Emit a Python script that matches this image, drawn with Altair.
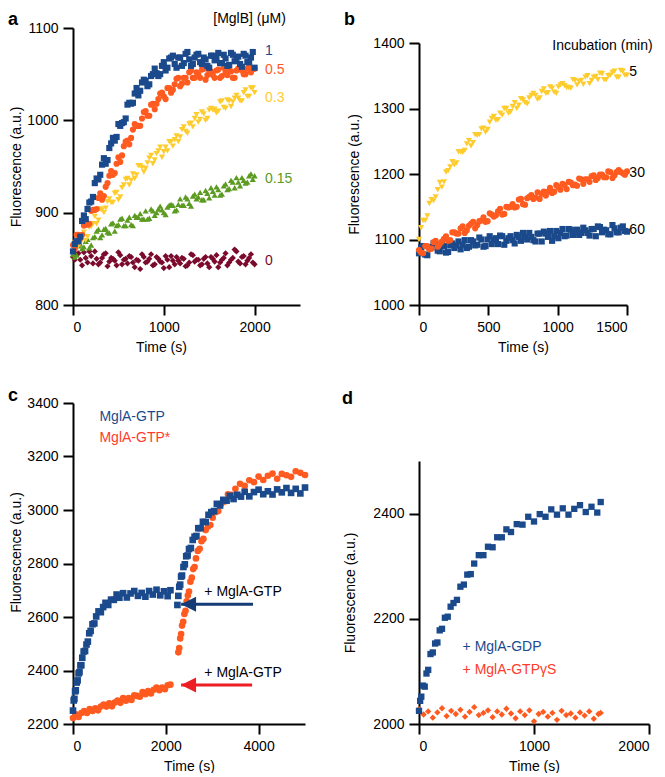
import altair as alt
import pandas as pd

FONT = "Liberation Sans"
BLUE = "#1b4a8c"
ORANGE = "#ff5a1f"
YELLOW = "#ffcc2e"
GREEN = "#5c9b21"
MAROON = "#7b0b2c"
RED = "#ee1d23"
ARROW_BLUE = "#163c78"
LEG_RED = "#ff3b2b"

# ---------------- panel a : [MglB] series (two interleaved reading sets) ----------------
a_time = [0, 40, 80, 120, 160, 200, 240, 280, 320, 360, 400, 440, 480, 520, 560, 600, 640,
          680, 720, 760, 800, 840, 880, 920, 960, 1000, 1040, 1080, 1120, 1160, 1200, 1240,
          1280, 1320, 1360, 1400, 1440, 1480, 1520, 1560, 1600, 1640, 1680, 1720, 1760, 1800,
          1840, 1880, 1920, 1960, 2000]
a_time2 = [20, 60, 100, 140, 180, 220, 260, 300, 340, 380, 420, 460, 500, 540, 580, 620, 660,
           700, 740, 780, 820, 860, 900, 940, 980, 1020, 1060, 1100, 1140, 1180, 1220, 1260,
           1300, 1340, 1380, 1420, 1460, 1500, 1540, 1580, 1620, 1660, 1700, 1740, 1780, 1820,
           1860, 1900, 1940, 1980]
a_1 = [858, 869, 874, 897, 904, 912, 932, 936, 952, 953, 970, 981, 982, 994, 998, 1017, 1018,
       1029, 1027, 1041, 1043, 1039, 1050, 1051, 1050, 1063, 1057, 1068, 1061, 1068, 1059, 1072,
       1066, 1061, 1071, 1063, 1068, 1059, 1070, 1065, 1073, 1062, 1067, 1060, 1071, 1066, 1061,
       1072, 1063, 1068, 1057]
a_1b = [866, 869, 891, 893, 911, 917, 937, 941, 959, 957, 975, 978, 996, 997, 1002, 1019, 1019,
        1035, 1032, 1044, 1037, 1048, 1056, 1048, 1059, 1054, 1067, 1070, 1057, 1068, 1062, 1074,
        1059, 1068, 1072, 1061, 1066, 1057, 1070, 1067, 1062, 1071, 1059, 1073, 1064, 1069, 1058,
        1070, 1063, 1074]
a_05 = [865, 876, 872, 886, 887, 902, 903, 916, 914, 928, 940, 941, 953, 955, 972, 978, 981,
        996, 994, 1002, 1010, 1005, 1018, 1018, 1029, 1026, 1035, 1030, 1039, 1046, 1040, 1046,
        1052, 1046, 1052, 1046, 1056, 1049, 1053, 1046, 1055, 1048, 1052, 1057, 1046, 1054, 1056,
        1050, 1056, 1052, 1056]
a_05b = [861, 876, 876, 892, 888, 903, 904, 921, 918, 932, 945, 943, 960, 962, 977, 974, 990,
         994, 994, 1009, 1005, 1017, 1012, 1023, 1030, 1023, 1035, 1033, 1045, 1037, 1046, 1041,
         1054, 1046, 1050, 1055, 1044, 1054, 1049, 1054, 1046, 1057, 1049, 1053, 1046, 1056, 1054,
         1050, 1058, 1056]
a_03 = [857, 868, 867, 879, 874, 885, 896, 892, 903, 905, 915, 911, 922, 917, 930, 937, 935,
        937, 951, 949, 948, 959, 953, 964, 971, 966, 967, 977, 979, 977, 990, 988, 996, 993,
        1006, 1001, 1007, 1002, 1013, 1012, 1010, 1021, 1013, 1021, 1020, 1027, 1021, 1030, 1026,
        1035, 1030]
a_03b = [867, 864, 875, 870, 884, 888, 888, 904, 900, 912, 911, 921, 914, 927, 936, 930, 942,
         941, 951, 944, 954, 962, 957, 967, 960, 971, 977, 972, 983, 982, 993, 986, 997, 1002,
         998, 1009, 1000, 1011, 1011, 1008, 1020, 1014, 1022, 1015, 1024, 1024, 1021, 1033, 1026,
         1035]
a_015 = [855, 854, 866, 863, 871, 865, 874, 882, 876, 883, 878, 889, 886, 893, 886, 892, 887,
         897, 895, 893, 902, 894, 902, 900, 907, 900, 906, 909, 902, 909, 908, 917, 910, 918,
         915, 922, 914, 921, 927, 919, 925, 920, 931, 926, 933, 938, 929, 935, 933, 942, 940]
a_015b = [852, 864, 861, 869, 862, 873, 880, 873, 882, 879, 888, 880, 887, 894, 886, 895, 886,
          895, 899, 893, 893, 904, 897, 904, 903, 898, 908, 908, 903, 915, 908, 915, 907, 920,
          917, 914, 924, 916, 923, 928, 919, 929, 925, 935, 927, 933, 938, 932, 940, 936]
a_0 = [852, 855, 849, 857, 846, 853, 858, 844, 851, 856, 847, 850, 843, 854, 849, 845, 852,
       841, 848, 855, 846, 850, 843, 852, 847, 840, 849, 853, 844, 848, 851, 842, 846, 854, 849,
       843, 850, 845, 852, 847, 841, 849, 856, 846, 851, 858, 845, 853, 848, 855, 844]
a_0b = [849, 856, 843, 851, 858, 845, 850, 846, 855, 842, 851, 848, 857, 844, 850, 853, 846,
        849, 839, 852, 847, 855, 844, 850, 846, 853, 841, 848, 852, 845, 850, 843, 855, 847, 849,
        844, 852, 841, 850, 854, 846, 851, 843, 849, 860, 847, 852, 844, 851, 846]
a_labels = ["1", "0.5", "0.3", "0.15", "0"]
a_label_f = [1075, 1054, 1024, 937, 848]

# ---------------- panel b : incubation series ----------------
b_time = [0, 30, 60, 90, 120, 150, 180, 210, 240, 270, 300, 330, 360, 390, 420, 450, 480, 510,
          540, 570, 600, 630, 660, 690, 720, 750, 780, 810, 840, 870, 900, 930, 960, 990, 1020,
          1050, 1080, 1110, 1140, 1170, 1200, 1230, 1260, 1290, 1320, 1350, 1380, 1410, 1440,
          1470, 1500]
b_time2 = [15, 45, 75, 105, 135, 165, 195, 225, 255, 285, 315, 345, 375, 405, 435, 465, 495,
           525, 555, 585, 615, 645, 675, 705, 735, 765, 795, 825, 855, 885, 915, 945, 975, 1005,
           1035, 1065, 1095, 1125, 1155, 1185, 1215, 1245, 1275, 1305, 1335, 1365, 1395, 1425,
           1455, 1485]
b_5 = [1100, 1129, 1136, 1161, 1165, 1187, 1188, 1205, 1219, 1217, 1234, 1236, 1251, 1248, 1259,
       1269, 1264, 1279, 1288, 1283, 1290, 1300, 1295, 1309, 1305, 1313, 1307, 1320, 1320, 1316,
       1330, 1324, 1331, 1323, 1336, 1335, 1332, 1344, 1336, 1343, 1348, 1338, 1348, 1344, 1353,
       1344, 1351, 1357, 1348, 1357, 1351]
b_5b = [1118, 1129, 1155, 1159, 1176, 1180, 1203, 1211, 1214, 1234, 1233, 1246, 1243, 1260, 1260,
        1270, 1268, 1285, 1282, 1293, 1300, 1293, 1303, 1300, 1315, 1309, 1316, 1323, 1314, 1326,
        1323, 1333, 1325, 1333, 1338, 1332, 1331, 1343, 1341, 1337, 1350, 1343, 1349, 1354, 1344,
        1350, 1355, 1348, 1358, 1351]
b_30 = [1084, 1079, 1090, 1086, 1098, 1093, 1101, 1098, 1111, 1109, 1117, 1110, 1121, 1127, 1122,
        1129, 1127, 1140, 1135, 1143, 1138, 1150, 1150, 1149, 1161, 1154, 1163, 1168, 1164, 1162,
        1173, 1173, 1171, 1183, 1176, 1183, 1188, 1183, 1182, 1192, 1192, 1188, 1198, 1194, 1199,
        1195, 1203, 1198, 1206, 1201, 1204]
b_30b = [1080, 1090, 1085, 1096, 1089, 1097, 1105, 1099, 1111, 1109, 1120, 1114, 1124, 1117,
         1128, 1134, 1128, 1138, 1137, 1147, 1139, 1149, 1154, 1150, 1162, 1153, 1165, 1162, 1172,
         1170, 1167, 1179, 1173, 1180, 1185, 1177, 1187, 1184, 1193, 1185, 1192, 1197, 1191, 1199,
         1195, 1204, 1194, 1203, 1203, 1199]
b_60 = [1079, 1090, 1076, 1088, 1093, 1082, 1090, 1081, 1094, 1091, 1085, 1099, 1089, 1097, 1092,
        1100, 1090, 1105, 1099, 1093, 1105, 1098, 1105, 1094, 1104, 1110, 1100, 1104, 1097, 1109,
        1112, 1104, 1098, 1113, 1110, 1105, 1116, 1107, 1115, 1110, 1114, 1106, 1116, 1120, 1111,
        1114, 1108, 1117, 1111, 1120, 1112]
b_60b = [1088, 1077, 1088, 1094, 1083, 1093, 1080, 1091, 1087, 1097, 1092, 1087, 1099, 1091,
         1103, 1089, 1100, 1093, 1102, 1106, 1092, 1102, 1099, 1107, 1098, 1104, 1110, 1099, 1109,
         1097, 1109, 1113, 1105, 1102, 1116, 1106, 1115, 1111, 1107, 1118, 1110, 1116, 1105, 1119,
         1115, 1108, 1122, 1111, 1118, 1113]
b_labels = ["5", "30", "60"]
b_label_f = [1355, 1201, 1115]

# ---------------- panel c : MglA-GTP / MglA-GTP* ----------------
c_blue1_t = [0, 15, 30, 45, 60, 80, 100, 120, 140, 160, 180, 200, 230, 260, 290, 320, 350, 380,
             420, 460, 500, 550, 600, 650, 700, 760, 820, 880, 940, 1000, 1080, 1160, 1240, 1320,
             1400, 1480, 1560, 1640, 1720, 1800, 1880, 1960, 2040, 2100]
c_blue1 = [2250, 2288, 2294, 2322, 2326, 2355, 2363, 2389, 2394, 2419, 2420, 2448, 2471, 2473,
           2497, 2508, 2539, 2548, 2573, 2576, 2602, 2621, 2618, 2637, 2653, 2645, 2665, 2664,
           2684, 2672, 2689, 2673, 2688, 2697, 2679, 2690, 2676, 2697, 2684, 2702, 2681, 2696,
           2678, 2700]
c_blue2_t = [2250, 2270, 2290, 2310, 2330, 2350, 2380, 2410, 2440, 2470, 2500, 2540, 2580, 2620,
             2660, 2700, 2750, 2800, 2860, 2920, 2980, 3040, 3100, 3170, 3240, 3310, 3380, 3460,
             3540, 3620, 3700, 3800, 3900, 4000, 4100, 4200, 4300, 4400, 4500, 4600, 4700, 4800,
             4900, 5000]
c_blue2 = [2645, 2679, 2713, 2721, 2751, 2755, 2787, 2797, 2827, 2830, 2854, 2858, 2888, 2900,
           2903, 2932, 2932, 2956, 2955, 2982, 2992, 2996, 3023, 3017, 3038, 3035, 3053, 3041,
           3057, 3050, 3068, 3051, 3067, 3076, 3059, 3070, 3058, 3077, 3066, 3082, 3064, 3079,
           3062, 3084]
c_orange1_t = [0, 60, 120, 180, 240, 300, 360, 420, 480, 540, 600, 660, 720, 780, 840, 900, 960,
               1020, 1080, 1140, 1200, 1260, 1320, 1380, 1440, 1500, 1560, 1620, 1680, 1740,
               1800, 1860, 1920, 1980, 2040, 2100]
c_orange1 = [2222, 2236, 2226, 2241, 2248, 2241, 2256, 2249, 2259, 2251, 2265, 2273, 2265, 2277,
             2266, 2280, 2288, 2279, 2297, 2287, 2297, 2290, 2307, 2305, 2302, 2319, 2311, 2323,
             2314, 2328, 2336, 2326, 2336, 2330, 2345, 2347]
c_orange2_t = [2270, 2290, 2310, 2330, 2350, 2375, 2400, 2425, 2450, 2475, 2500, 2530, 2560,
               2590, 2620, 2650, 2690, 2730, 2770, 2810, 2860, 2910, 2960, 3010, 3070, 3130,
               3200, 3270, 3340, 3420, 3500, 3600, 3700, 3800, 3900, 4000, 4100, 4200, 4300,
               4400, 4500, 4600, 4700, 4800, 4900, 5000]
c_orange2 = [2468, 2484, 2520, 2536, 2568, 2582, 2611, 2623, 2659, 2680, 2695, 2732, 2747, 2779,
             2787, 2819, 2847, 2855, 2883, 2892, 2925, 2938, 2944, 2971, 2992, 2996, 3024, 3032,
             3059, 3057, 3079, 3098, 3090, 3111, 3104, 3125, 3112, 3128, 3136, 3117, 3135, 3130,
             3124, 3145, 3139, 3131]
c_arrow_tip = [2330, 2330]
c_arrow_end = [3880, 3860]
c_arrow_f = [2648, 2346]
c_note_f = [2695, 2392]

# ---------------- panel d : MglA-GDP / MglA-GTPgS ----------------
d_blue_t = [0, 10, 20, 35, 50, 65, 80, 100, 120, 140, 160, 180, 200, 225, 250, 275, 300, 330,
            360, 390, 420, 450, 480, 520, 560, 600, 640, 680, 720, 760, 800, 850, 900, 950, 1000,
            1050, 1100, 1150, 1200, 1250, 1300, 1350, 1400, 1450, 1500, 1550, 1580]
d_blue = [2025, 2044, 2052, 2073, 2071, 2096, 2103, 2133, 2136, 2153, 2155, 2178, 2181, 2202,
          2204, 2223, 2230, 2236, 2261, 2265, 2284, 2285, 2305, 2321, 2321, 2337, 2336, 2355,
          2355, 2370, 2365, 2380, 2379, 2394, 2385, 2399, 2394, 2408, 2398, 2410, 2398, 2409,
          2416, 2403, 2413, 2402, 2422]
d_orange_t = [0, 40, 80, 120, 160, 200, 240, 280, 320, 360, 400, 440, 480, 520, 560, 600, 640,
              680, 720, 760, 800, 840, 880, 920, 960, 1000, 1040, 1080, 1120, 1160, 1200, 1240,
              1280, 1320, 1360, 1400, 1440, 1480, 1520, 1560, 1580]
d_orange = [2028, 2018, 2024, 2012, 2022, 2030, 2015, 2025, 2019, 2027, 2014, 2023, 2032, 2017,
            2021, 2026, 2013, 2024, 2018, 2029, 2020, 2011, 2024, 2017, 2026, 2005, 2019, 2023,
            2014, 2021, 2008, 2025, 2017, 2020, 2012, 2022, 2016, 2024, 2010, 2019, 2021]

MS = 38  # marker area


def frame(t, f):
    return pd.DataFrame({"t": t, "f": f})


def encs(xdom, xticks, ydom, yticks, yrange, ytitle_x, xtitle_x=None, ytitle_y=None):
    xa = dict(values=xticks, title="Time (s)", format="d")
    if xtitle_x is not None:
        xa["titleX"] = xtitle_x
    ya = dict(values=yticks, title="Fluorescence (a.u.)", titleX=ytitle_x, format="d")
    if ytitle_y is not None:
        ya["titleY"] = ytitle_y
    x = alt.X("t:Q", scale=alt.Scale(domain=xdom, nice=False, zero=False), axis=alt.Axis(**xa))
    y = alt.Y("f:Q", scale=alt.Scale(domain=ydom, nice=False, zero=False, range=yrange),
              axis=alt.Axis(**ya))
    return x, y


def points(t, f, color, shape, x, y, size=MS):
    return alt.Chart(frame(t, f)).mark_point(
        shape=shape, filled=True, size=size, color=color, opacity=1, strokeWidth=0
    ).encode(x=x, y=y)


def texts(ts, fs, labels, colors, x, y, align="left", size=14):
    df = pd.DataFrame({"t": ts, "f": fs, "label": labels, "c": colors})
    return alt.Chart(df).mark_text(align=align, baseline="middle", fontSize=size, font=FONT).encode(
        x=x, y=y, text="label:N", color=alt.Color("c:N", scale=None))


def letter(ch, px, py):
    return alt.Chart(pd.DataFrame({"k": [ch]})).mark_text(
        align="left", baseline="top", fontSize=18, fontWeight="bold", font=FONT, color="black"
    ).encode(text="k:N", x=alt.value(px), y=alt.value(py))


# ---- panel a
xa, ya = encs([0, 2500], [0, 1000, 2000], [800, 1100], [800, 900, 1000, 1100], [277, 0], -50,
              xtitle_x=88)
pa = alt.layer(
    points(a_time, a_0, MAROON, "diamond", xa, ya),
    points(a_time2, a_0b, MAROON, "diamond", xa, ya),
    points(a_time, a_015, GREEN, "triangle-up", xa, ya),
    points(a_time2, a_015b, GREEN, "triangle-up", xa, ya),
    points(a_time, a_03, YELLOW, "triangle-down", xa, ya),
    points(a_time2, a_03b, YELLOW, "triangle-down", xa, ya),
    points(a_time, a_05, ORANGE, "circle", xa, ya),
    points(a_time2, a_05b, ORANGE, "circle", xa, ya),
    points(a_time, a_1, BLUE, "square", xa, ya),
    points(a_time2, a_1b, BLUE, "square", xa, ya),
    texts([2115] * 5, a_label_f, a_labels, [BLUE, ORANGE, YELLOW, GREEN, MAROON], xa, ya),
    texts([1545], [1110], ["[MglB] (\u03bcM)"], ["black"], xa, ya),
    letter("a", -65, -17),
).properties(width=227, height=277)

# ---- panel b
xb, yb = encs([0, 1500], [0, 500, 1000, 1500], [1000, 1400], [1000, 1100, 1200, 1300, 1400],
              [277, 15], -58)
pb = alt.layer(
    points(b_time, b_60, BLUE, "square", xb, yb),
    points(b_time2, b_60b, BLUE, "square", xb, yb),
    points(b_time, b_30, ORANGE, "circle", xb, yb),
    points(b_time2, b_30b, ORANGE, "circle", xb, yb),
    points(b_time, b_5, YELLOW, "triangle-down", xb, yb),
    points(b_time2, b_5b, YELLOW, "triangle-down", xb, yb),
    texts([1517] * 3, b_label_f, b_labels, ["black"] * 3, xb, yb),
    texts([1685], [1396], ["Incubation (min)"], ["black"], xb, yb, align="right"),
    letter("b", -75, -17),
).properties(width=208, height=277)

# ---- panel c
xc, yc = encs([0, 5000], [0, 2000, 4000], [2200, 3400], [2200, 2400, 2600, 2800, 3000, 3200, 3400],
              [321, 0], -50, ytitle_y=149)
arrow_df = pd.DataFrame({"t": c_arrow_tip, "t2": c_arrow_end, "f": c_arrow_f,
                         "c": [ARROW_BLUE, RED]})
head_df = pd.DataFrame({"t": [2490, 2490], "f": c_arrow_f, "c": [ARROW_BLUE, RED]})
pc = alt.layer(
    points(c_orange1_t, c_orange1, ORANGE, "circle", xc, yc, 44),
    points(c_orange2_t, c_orange2, ORANGE, "circle", xc, yc, 44),
    points(c_blue1_t, c_blue1, BLUE, "square", xc, yc, 44),
    points(c_blue2_t, c_blue2, BLUE, "square", xc, yc, 44),
    alt.Chart(arrow_df).mark_rule(strokeWidth=3).encode(
        x=alt.X("t2:Q", scale=alt.Scale(domain=[0, 5000], nice=False)), x2="t:Q", y=yc,
        color=alt.Color("c:N", scale=None)),
    alt.Chart(head_df).mark_point(shape="M-1,0L1,-1L1,1Z", filled=True, size=225, opacity=1,
                                  strokeWidth=0).encode(
        x=xc, y=yc, color=alt.Color("c:N", scale=None)),
    texts([2831, 2831], c_note_f, ["+ MglA-GTP", "+ MglA-GTP"], ["black", "black"], xc, yc),
    texts([570, 570], [3349, 3268], ["MglA-GTP", "MglA-GTP*"], [BLUE, LEG_RED], xc, yc),
    letter("c", -65, -16),
).properties(width=232, height=321)

# ---- panel d
xd, yd = encs([0, 2000], [0, 1000, 2000], [2000, 2500], [2000, 2200, 2400], [321, 58], -62)
pd_ = alt.layer(
    points(d_orange_t, d_orange, ORANGE, "diamond", xd, yd, 40),
    points(d_blue_t, d_blue, BLUE, "square", xd, yd, 40),
    texts([379, 379], [2147, 2103], ["+ MglA-GDP", "+ MglA-GTP\u03b3S"], [BLUE, LEG_RED], xd, yd),
    letter("d", -77, -13),
).properties(width=230, height=321)

chart = alt.concat(
    pa, pb, pc, pd_, columns=2, spacing={"row": 98, "column": 114}, bounds="flush"
).properties(padding={"left": 0, "top": 3, "right": 0, "bottom": 0}).configure_view(
    stroke=None
).configure_axis(
    domainColor="black", domainWidth=2, tickColor="black", tickWidth=2, tickSize=10,
    labelFontSize=14, labelFont=FONT, labelColor="black", labelPadding=5,
    titleFont=FONT, titleFontSize=14, titleFontWeight="normal", titleColor="black",
    titlePadding=6, grid=False
).configure_text(font=FONT)

chart.save("out.html", embed_options={"renderer": "svg", "actions": False})
